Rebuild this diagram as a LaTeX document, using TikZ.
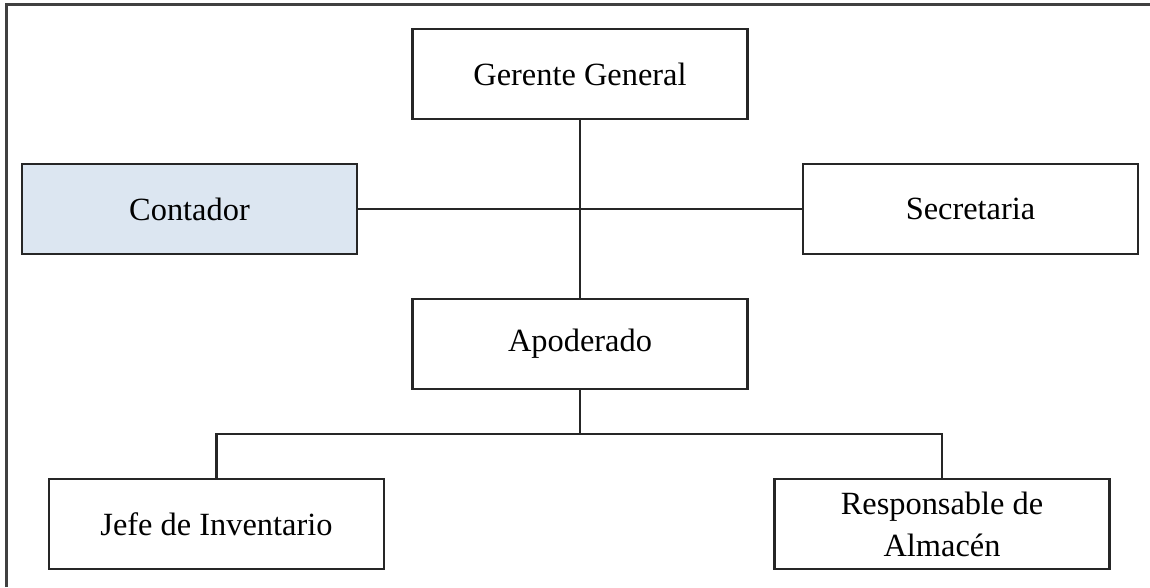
\documentclass[tikz,border=0pt]{standalone}
\usepackage{fontspec}
\setmainfont{Liberation Serif}
\definecolor{framegray}{HTML}{404040}
\definecolor{boxblue}{HTML}{DCE6F1}
\begin{document}
\begin{tikzpicture}[x=1pt,y=-1pt,
  orgbox/.style={draw=black!85, line width=2.2pt, fill=white,
    minimum width=335pt, minimum height=90pt, inner sep=0pt,
    align=center, font=\fontsize{32.4}{42}\selectfont},
  link/.style={draw=black!85, line width=2.2pt}]
  \useasboundingbox (0,0) rectangle (1150,587);
  % outer frame (top and left edges)
  \draw[framegray, line width=2.2pt] (6.5,587) -- (6.5,4.5) -- (1150,4.5);

  \node[orgbox] (gg)   at (580,74)    {Gerente General};
  \node[orgbox, fill=boxblue] (cont) at (189.5,209) {Contador};
  \node[orgbox] (sec)  at (970.5,209) {Secretaria};
  \node[orgbox] (apo)  at (580,344)   {Apoderado};
  \node[orgbox] (jefe) at (216.5,524) {Jefe de Inventario};
  \node[orgbox] (resp) at (942,524)   {Responsable de\\Almacén};

  \coordinate (bar) at (580,434);
  \draw[link] (gg.south) -- (apo.north);
  \draw[link] (cont.east) -- (sec.west);
  \draw[link] (apo.south) -- (bar);
  \draw[link] (jefe.north) |- (bar) -| (resp.north);
\end{tikzpicture}
\end{document}
